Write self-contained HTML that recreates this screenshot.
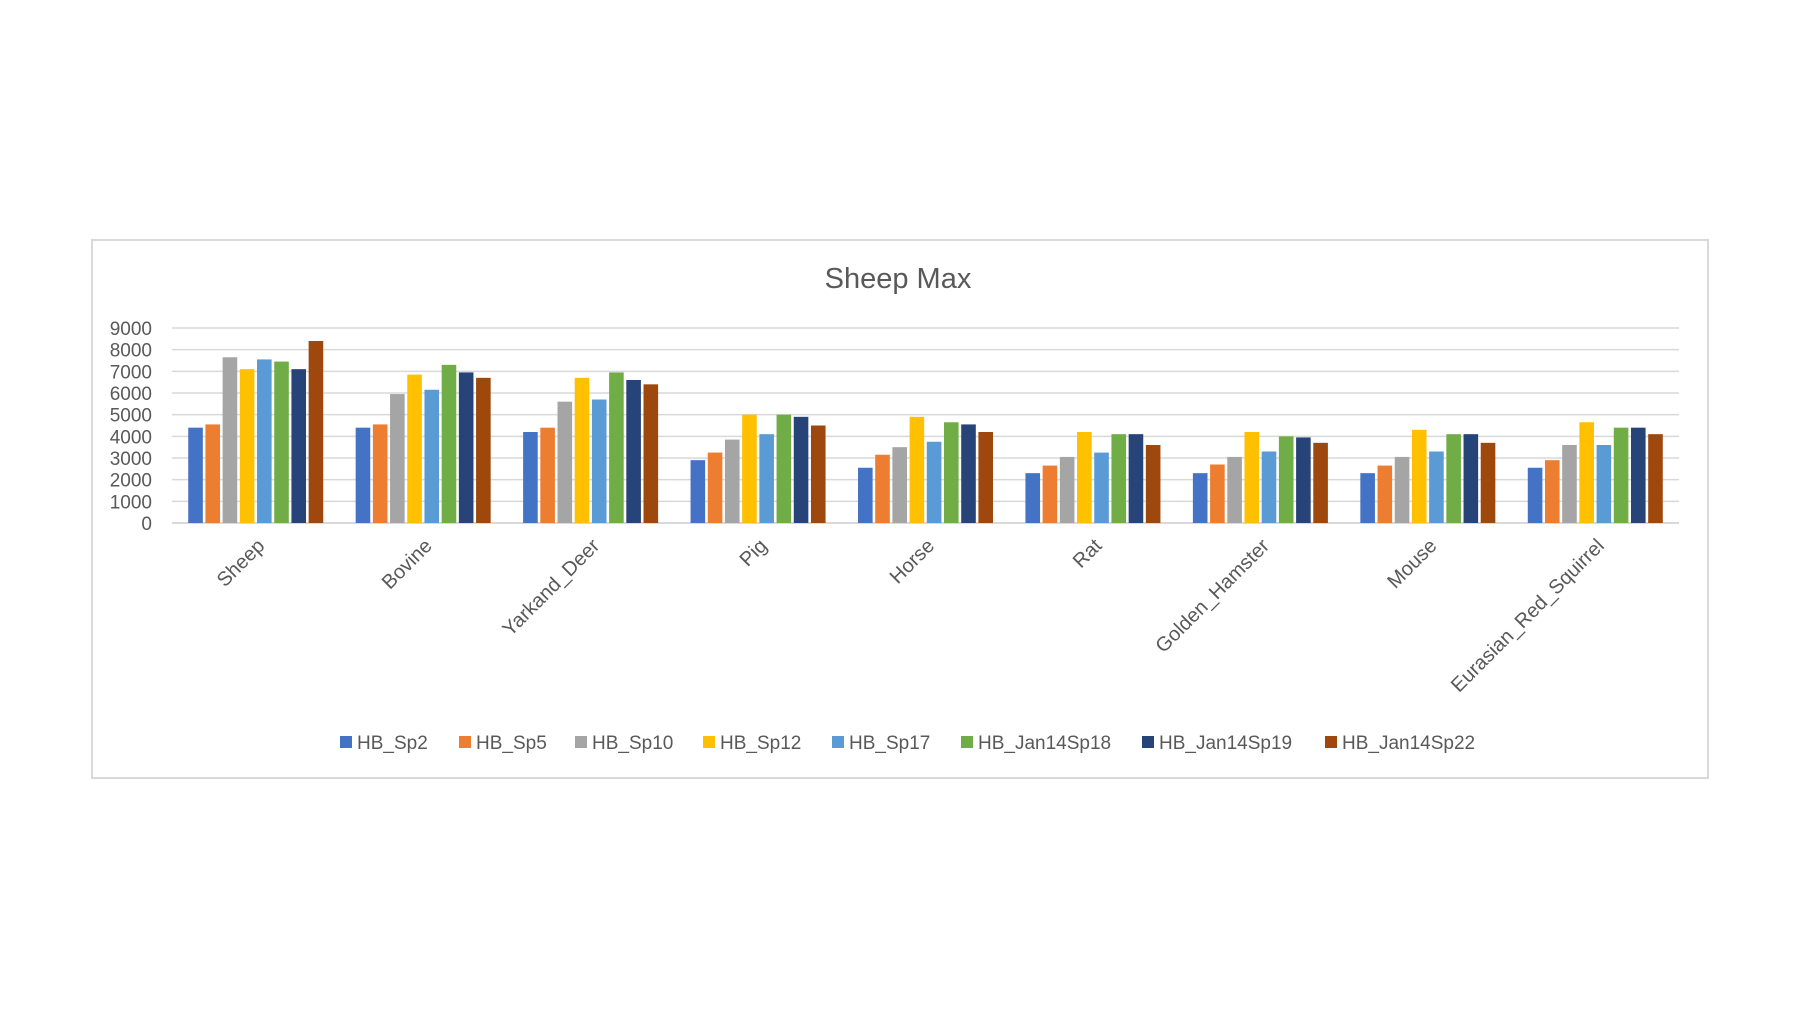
<!DOCTYPE html>
<html><head><meta charset="utf-8"><style>
body{margin:0;background:#fff;font-family:"Liberation Sans",sans-serif}
</style></head><body>
<svg id="c" width="1800" height="1013" style="display:block">
<rect x="92" y="240" width="1616" height="538" fill="#fff" stroke="#d9d9d9" stroke-width="2"/>
<text x="898" y="288" text-anchor="middle" font-size="29" fill="#595959">Sheep Max</text>
<g id="grid"></g><g id="bars"></g><g id="xl"></g><g id="leg"></g>
</svg>
<script>
const categories=["Sheep","Bovine","Yarkand_Deer","Pig","Horse","Rat","Golden_Hamster","Mouse","Eurasian_Red_Squirrel"];
const seriesNames=["HB_Sp2","HB_Sp5","HB_Sp10","HB_Sp12","HB_Sp17","HB_Jan14Sp18","HB_Jan14Sp19","HB_Jan14Sp22"];
const colors=["#4472c4","#ed7d31","#a5a5a5","#ffc000","#5b9bd5","#70ad47","#264478","#9e480e"];
const s1=[4400,4400,4200,2900,2550,2300,2300,2300,2550];
const s2=[4550,4550,4400,3250,3150,2650,2700,2650,2900];
const s3=[7650,5950,5600,3850,3500,3050,3050,3050,3600];
const s4=[7100,6850,6700,5000,4900,4200,4200,4300,4650];
const s5=[7550,6150,5700,4100,3750,3250,3300,3300,3600];
const s6=[7450,7300,6950,5000,4650,4100,4000,4100,4400];
const s7=[7100,6950,6600,4900,4550,4100,3950,4100,4400];
const s8=[8400,6700,6400,4500,4200,3600,3700,3700,4100];
const series=[s1,s2,s3,s4,s5,s6,s7,s8];
const yTicks=[0,1000,2000,3000,4000,5000,6000,7000,8000,9000];
const NS="http://www.w3.org/2000/svg";
const X0=172,X1=1679,Y0=523,Y9=328;
const y=v=>Y0-(v/9000)*(Y0-Y9);
const gw=(X1-X0)/categories.length;
const bw=14.6,step=17.2;
function mk(t,a,p){const e=document.createElementNS(NS,t);for(const k in a)e.setAttribute(k,a[k]);p.appendChild(e);return e;}
const grid=document.getElementById('grid');
yTicks.forEach(v=>{
 const l=mk('line',{x1:X0,x2:X1,y1:y(v),y2:y(v),stroke:'#d9d9d9','stroke-width':v?1.5:2},grid);
 
 
 const t=mk('text',{x:152,y:y(v)+7,'text-anchor':'end','font-size':19,fill:'#595959'},grid);
 t.textContent=v;
 
 
});
const bars=document.getElementById('bars');
categories.forEach((c,i)=>{
 const cx=X0+gw*(i+0.5);
 series.forEach((s,j)=>{
  const x=cx-step*4+step*j+(step-bw)/2;
  const r=mk('rect',{x:x,y:y(s[i]),width:bw,height:Y0-y(s[i]),fill:colors[j]},bars);
  
  
 });
 const t=mk('text',{x:0,y:0,'text-anchor':'end','font-size':20,fill:'#595959',transform:`translate(${cx+10},${Y0+24}) rotate(-45)`},document.getElementById('xl'));
 t.textContent=c;
 
 
});
const legX=[340,459,575,703,832,961,1142,1325];
const leg=document.getElementById('leg');
seriesNames.forEach((n,j)=>{
 const g=mk('g',{},leg);
 
 
 mk('rect',{x:legX[j],y:736,width:12,height:12,fill:colors[j]},g);
 const t=mk('text',{x:legX[j]+17,y:749,'font-size':19,fill:'#595959'},g);
 t.textContent=n;
});
</script>
</body></html>
